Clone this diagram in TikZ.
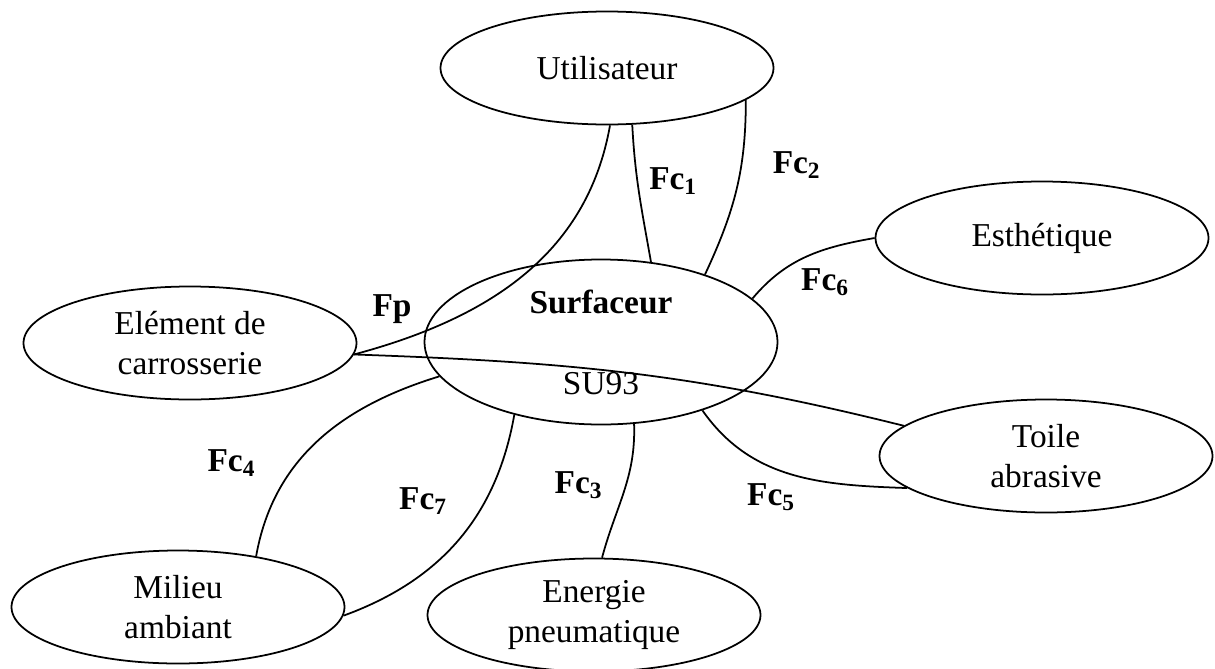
\documentclass[tikz,border=0pt]{standalone}
\usepackage{fontspec}
\setmainfont{Liberation Serif}
\usetikzlibrary{shapes,positioning}

\begin{document}
\begin{tikzpicture}[
    bloc/.style={draw, ellipse, line width=1pt, minimum width=6.66cm, minimum height=2.26cm, inner sep=0pt, align=center, font=\fontsize{19}{22.8}\selectfont},
    produit/.style={bloc, minimum width=7.06cm, minimum height=3.3cm},
    liaison/.style={line width=1pt},
    fc/.style={font=\fontsize{19}{22.8}\selectfont\bfseries, inner sep=2pt}
]

\useasboundingbox (0,0) rectangle (24.3,-13.36);

% Produit au centre
\node[produit] (surf) at (12.02,-6.84) {\textbf{Surfaceur}\\[0.82cm]SU93};

% Elements du milieu exterieur
\node[bloc] (util) at (12.14,-1.36) {Utilisateur};
\node[bloc] (esth) at (20.84,-4.76) {Esthétique};
\node[bloc] (elem) at (3.80,-6.86) {Elément de\\carrosserie};
\node[bloc] (toile) at (20.92,-9.12) {Toile\\abrasive};
\node[bloc] (milieu) at (3.56,-12.14) {Milieu\\ambiant};
\node[bloc] (energie) at (11.88,-12.30) {Energie\\pneumatique};

% Fonction principale
\draw[liaison] (util.-87) to[out=-100, in=15] node[fc, pos=0.9, above=3mm] {Fp} (elem.-4);
\draw[liaison] (elem.-4) to[out=-2, in=166] (toile.168);

% Fonctions contraintes
\draw[liaison] (util.-66) to[out=-87, in=100] node[fc, pos=0.4, right=1.5mm] {Fc\textsubscript{1}} (surf.58);
\draw[liaison] (util.-13) to[out=-90, in=65] node[fc, pos=0.35, right=5.4mm] {Fc\textsubscript{2}} (surf.33);
\draw[liaison] (surf.-68) to[out=-88, in=75] node[fc, pos=0.45, left=3.8mm] {Fc\textsubscript{3}} (energie.82);
\draw[liaison] (surf.-168) to[out=197, in=80] node[fc, pos=0.62, left=7.5mm] {Fc\textsubscript{4}} (milieu.33);
\draw[liaison] (surf.-34) to[out=-55, in=178] node[fc, pos=0.4, below=2.5mm] {Fc\textsubscript{5}} (toile.193);
\draw[liaison] (surf.16) to[out=50, in=190] node[fc, pos=0.65, below=3mm] {Fc\textsubscript{6}} (esth.180);
\draw[liaison] (surf.-140) to[out=-100, in=20] node[fc, pos=0.32, left=6.8mm] {Fc\textsubscript{7}} (milieu.-3);

\end{tikzpicture}
\end{document}
